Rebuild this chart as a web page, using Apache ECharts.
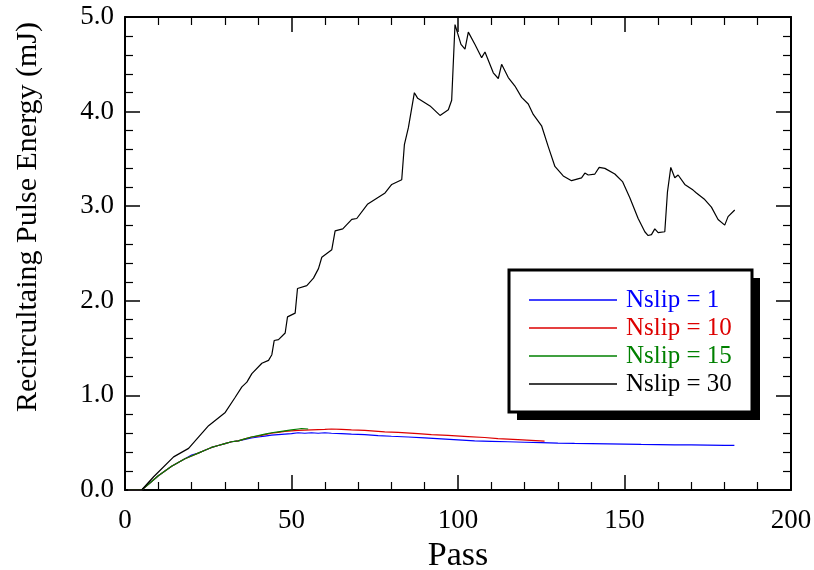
<!DOCTYPE html>
<html>
<head>
<meta charset="utf-8">
<script src="https://cdn.jsdelivr.net/npm/echarts@6/dist/echarts.min.js"></script>
<style>html,body{margin:0;padding:0;background:#fff;}#c{width:814px;height:570px;}</style>
</head>
<body>
<div id="c"></div>
<script>
const seriesNames = ['Nslip = 1', 'Nslip = 10', 'Nslip = 15', 'Nslip = 30'];
const seriesColors = ['#0000ff', '#dd0000', '#008000', '#000000'];

const pass1 = [1,5,8,10,12,14,16,18,20,22,24,26,28,30,32,34,36,38,40,42,44,46,48,50,52,54,56,58,60,62,65,68,72,76,80,85,90,95,100,105,110,115,120,125,130,135,140,145,150,155,160,165,170,175,180,183];
const energy1 = [0,0,0.09,0.15,0.2,0.25,0.29,0.33,0.37,0.39,0.42,0.45,0.47,0.49,0.51,0.52,0.535,0.55,0.56,0.57,0.58,0.585,0.59,0.595,0.605,0.6,0.605,0.6,0.605,0.6,0.595,0.59,0.585,0.575,0.568,0.56,0.55,0.54,0.53,0.52,0.515,0.51,0.505,0.5,0.495,0.492,0.49,0.488,0.485,0.482,0.48,0.478,0.476,0.474,0.472,0.472];

const pass10 = [1,5,8,10,12,14,16,18,20,22,24,26,28,30,32,34,36,38,40,42,44,46,48,50,52,56,60,62,65,68,72,78,82,88,92,97,103,108,112,118,122,126];
const energy10 = [0,0,0.09,0.15,0.2,0.25,0.29,0.33,0.36,0.39,0.42,0.45,0.47,0.49,0.51,0.52,0.54,0.56,0.57,0.585,0.6,0.61,0.62,0.625,0.63,0.635,0.64,0.645,0.64,0.635,0.63,0.615,0.61,0.595,0.585,0.578,0.565,0.555,0.543,0.532,0.525,0.517];

const pass15 = [1,5,8,10,12,14,16,18,20,22,24,26,28,30,32,34,36,38,40,42,44,46,48,50,52,53,55];
const energy15 = [0,0,0.09,0.15,0.2,0.25,0.29,0.33,0.36,0.39,0.42,0.45,0.47,0.49,0.51,0.52,0.54,0.56,0.575,0.59,0.605,0.615,0.625,0.635,0.645,0.65,0.645];

const pass30 = [1,5,8.6,14.6,19.1,21.6,25.1,30.1,33.1,35.1,36.6,38.1,41.1,43.1,44.1,44.8,46.1,48.1,48.8,51.1,51.8,54.6,56.6,58.1,59.1,62.1,63.1,65.4,68.1,69.6,72.8,78.1,80.1,83.1,83.9,85.1,86.9,87.9,91.6,94.6,97.1,98.1,99.1,100.9,102.1,103.1,105.1,107.1,108.1,110.6,112.1,113.1,115.1,117.1,119.1,121.1,122.6,125.1,127.1,129.1,131.6,134.1,137.1,138.1,139.1,141.1,142.4,144.1,147.1,149.4,151.6,154.1,156.1,157.1,158.1,159.1,160.1,162.1,162.9,163.9,165.1,166.1,168.1,170.6,171.6,174.1,176.1,178.1,180.1,181.1,183.1];
const energy30 = [0,0,0.14,0.35,0.44,0.54,0.68,0.82,0.98,1.09,1.14,1.23,1.34,1.37,1.43,1.58,1.59,1.66,1.83,1.87,2.13,2.16,2.24,2.34,2.46,2.54,2.74,2.76,2.86,2.87,3.02,3.14,3.23,3.28,3.65,3.83,4.2,4.14,4.06,3.96,4.02,4.12,4.92,4.71,4.66,4.84,4.71,4.57,4.63,4.41,4.35,4.5,4.36,4.27,4.15,4.08,3.97,3.85,3.63,3.42,3.32,3.27,3.3,3.35,3.33,3.34,3.41,3.4,3.34,3.26,3.09,2.87,2.73,2.69,2.7,2.76,2.72,2.73,3.15,3.41,3.3,3.33,3.23,3.17,3.14,3.07,2.99,2.86,2.8,2.89,2.96];

const xTicks = {min: 0, max: 200, interval: 50};
const yTicks = {min: 0, max: 5, interval: 1};

const FONT = '"Liberation Serif", "Times New Roman", serif';
const zip = (a, b) => a.map((v, i) => [v, b[i]]);
const allPass = [pass1, pass10, pass15, pass30];
const allEnergy = [energy1, energy10, energy15, energy30];

function axisCommon(isX, showLabel) {
  return {
    type: 'value',
    min: isX ? xTicks.min : yTicks.min,
    max: isX ? xTicks.max : yTicks.max,
    interval: isX ? xTicks.interval : yTicks.interval,
    axisLine: {show: true, onZero: false, lineStyle: {color: '#000', width: 2}},
    axisTick: {show: true, inside: true, length: 15, lineStyle: {color: '#000', width: 1.5}},
    minorTick: {show: true, splitNumber: 5, length: 8, lineStyle: {color: '#000', width: 1.2}},
    splitLine: {show: false},
    minorSplitLine: {show: false},
    axisLabel: {
      show: showLabel,
      color: '#000',
      fontFamily: FONT,
      fontSize: 27,
      margin: isX ? 17 : 11,
      formatter: isX ? (v => String(v)) : (v => v.toFixed(1))
    }
  };
}

const chart = echarts.init(document.getElementById('c'), null, {renderer: 'canvas'});
const option = {
  animation: false,
  backgroundColor: '#fff',
  grid: {left: 125, right: 23, top: 17, bottom: 80, containLabel: false, outerBoundsMode: 'none'},
  xAxis: [
    Object.assign(axisCommon(true, true), {position: 'bottom', name: 'Pass', nameLocation: 'middle', nameGap: 38,
      nameTextStyle: {color: '#000', fontFamily: FONT, fontSize: 34}}),
    Object.assign(axisCommon(true, false), {position: 'top'})
  ],
  yAxis: [
    Object.assign(axisCommon(false, true), {position: 'left'}),
    Object.assign(axisCommon(false, false), {position: 'right'})
  ],
  graphic: [
    {type: 'rect', z: 5, shape: {x: 517, y: 278, width: 243, height: 142}, style: {fill: '#000'}},
    {type: 'rect', z: 6, shape: {x: 509, y: 270, width: 243, height: 142}, style: {fill: '#fff', stroke: '#000', lineWidth: 3}},
    {type: 'text', z: 6, x: 28, y: 217, rotation: Math.PI / 2,
      style: {text: 'Recircultaing Pulse Energy (mJ)', fill: '#000', font: '30px ' + FONT, align: 'center', verticalAlign: 'middle'}}
  ],
  legend: {
    z: 20,
    orient: 'vertical',
    left: 529,
    top: 286,
    padding: 0,
    icon: 'rect',
    itemWidth: 88,
    itemHeight: 1.5,
    itemGap: 0,
    textStyle: {fontFamily: FONT, fontSize: 25, lineHeight: 28, padding: [0, 0, 0, 4]},
    data: seriesNames.map((n, i) => ({name: n, textStyle: {color: seriesColors[i]}}))
  },
  series: seriesNames.map((n, i) => ({
    name: n,
    type: 'line',
    xAxisIndex: 0,
    yAxisIndex: 0,
    showSymbol: false,
    symbol: 'none',
    color: seriesColors[i],
    lineStyle: {color: seriesColors[i], width: 1.2},
    data: zip(allPass[i], allEnergy[i])
  }))
};
chart.setOption(option);
</script>
</body>
</html>
